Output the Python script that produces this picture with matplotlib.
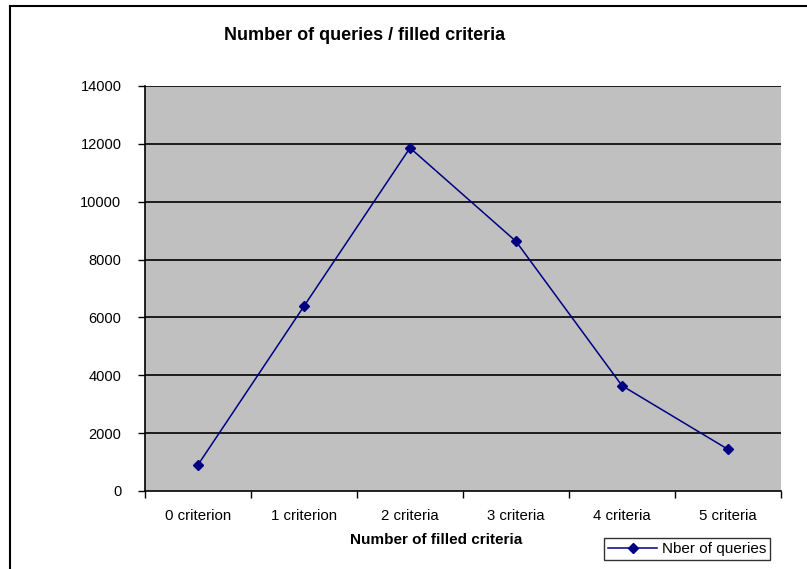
import matplotlib
matplotlib.use("Agg")
import matplotlib.pyplot as plt
from matplotlib.lines import Line2D

plt.rcParams['font.family'] = ['Liberation Sans', 'DejaVu Sans']

categories = ["0 criterion", "1 criterion", "2 criteria", "3 criteria", "4 criteria", "5 criteria"]
queries = [905, 6390, 11860, 8630, 3640, 1440]
yticks = [0, 2000, 4000, 6000, 8000, 10000, 12000, 14000]

fig = plt.figure(figsize=(8.07, 5.69), dpi=100)
ax = fig.add_axes([145/807, 78/569, 636/807, 405/569])
ax.set_facecolor("#C0C0C0")

x = list(range(len(categories)))
ax.plot(x, queries, color="#000080", lw=1.1, marker="D", ms=5.5,
        label="Nber of queries", zorder=3)

ax.set_xlim(-0.5, len(categories) - 0.5)
ax.set_ylim(0, 14000)
ax.set_yticks(yticks)
ax.set_yticklabels([str(v) for v in yticks], fontsize=10.5)
ax.set_xticks(x)
ax.set_xticklabels(categories, fontsize=10.8)
ax.set_xticks([i - 0.5 for i in range(len(categories) + 1)], minor=True)
ax.tick_params(axis="x", which="major", length=0, pad=13)
ax.tick_params(axis="x", which="minor", length=5, width=1, direction="out")
ax.tick_params(axis="y", length=5, width=1, direction="out", pad=12)

for v in yticks[1:]:
    ax.axhline(v, color="black", lw=1.2, zorder=1)

for s in ["top", "right"]:
    ax.spines[s].set_visible(False)
for s in ["left", "bottom"]:
    ax.spines[s].set_linewidth(1.2)

fig.text(365/807, 1 - 35/569, "Number of queries / filled criteria",
         ha="center", va="center", fontsize=13, fontweight="bold")
fig.text(436/807, 1 - 540/569, "Number of filled criteria",
         ha="center", va="center", fontsize=11, fontweight="bold")

leg = fig.legend(loc="center", bbox_to_anchor=(687/807, 1 - 549/569),
                 fontsize=11, frameon=True, fancybox=False, borderpad=0.25,
                 handlelength=3.2, handletextpad=0.3, borderaxespad=0)
leg.get_frame().set_edgecolor("black")
leg.get_frame().set_linewidth(1)

# outer chart border (left and top only visible)
fig.add_artist(Line2D([10/807, 10/807], [0, 1 - 6/569], transform=fig.transFigure,
                      color="black", lw=1.5))
fig.add_artist(Line2D([10/807, 1], [1 - 6/569, 1 - 6/569], transform=fig.transFigure,
                      color="black", lw=1.5))

fig.savefig("out.png", dpi=100)
